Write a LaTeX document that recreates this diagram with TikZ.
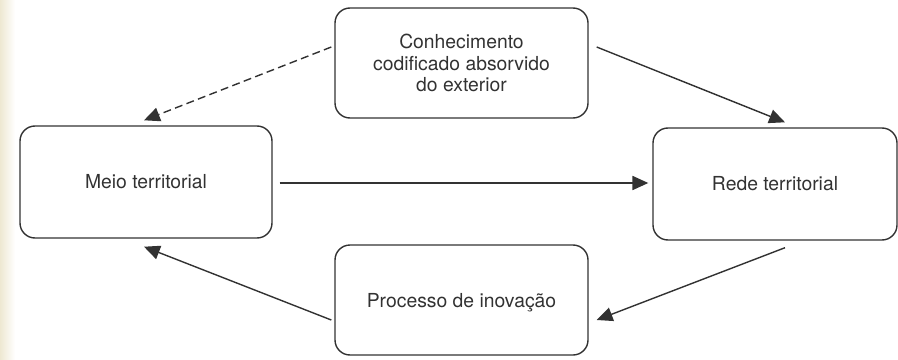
\documentclass[tikz,border=0pt]{standalone}
\usepackage{fontspec}
\setmainfont{TeX Gyre Heros}
\usepackage{tikz}
\usetikzlibrary{arrows.meta,calc}
\definecolor{ink}{RGB}{50,50,50}
\definecolor{paper}{RGB}{238,232,210}
\begin{document}
\begin{tikzpicture}[
  caixa/.style={draw=ink,line width=0.8pt,rounded corners=0.3cm,align=center,
    text=ink,font=\fontsize{11}{12}\selectfont,inner sep=2pt},
  seta/.style={draw=ink,line width=0.8pt,-{Triangle[length=9pt,width=8pt]}}]
\useasboundingbox (0,0) rectangle (17.96,7.18);
\shade[left color=paper,right color=white] (0,0) rectangle (0.3,7.18);
\node[caixa,minimum width=5.06cm,minimum height=2.2cm] (conh) at (9.23,5.92)
  {Conhecimento\\codificado absorvido\\do exterior};
\node[caixa,minimum width=5.04cm,minimum height=2.24cm] (meio) at (2.92,3.54) {Meio territorial};
\node[caixa,minimum width=4.88cm,minimum height=2.24cm] (rede) at (15.5,3.5) {Rede territorial};
\node[caixa,minimum width=5.06cm,minimum height=2.2cm,text depth=-4pt] (inov) at (9.23,1.18) {Processo de inovação};
\draw[seta,dash pattern=on 4.5pt off 2.5pt] ($(conh.west)+(-0.06,0.32)$) -- ($(meio.north)+(-0.04,0.1)$);
\draw[seta] ($(conh.east)+(0.16,0.32)$) -- ($(rede.north)+(0.2,0.1)$);
\draw[seta] ($(meio.east)+(0.14,-0.02)$) -- ($(meio.east -| rede.west)+(-0.08,-0.02)$);
\draw[seta] ($(rede.south)+(0.2,-0.14)$) -- ($(inov.east)+(0.16,-0.4)$);
\draw[seta] ($(inov.west)+(-0.06,-0.4)$) -- ($(meio.south)+(-0.04,-0.16)$);
\end{tikzpicture}
\end{document}
